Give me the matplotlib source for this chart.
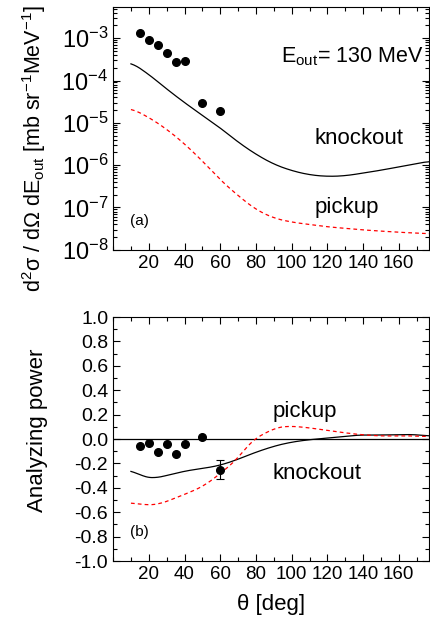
import numpy as np
import matplotlib
matplotlib.use("Agg")
import matplotlib.pyplot as plt
from matplotlib.ticker import MultipleLocator, FixedLocator, LogLocator, NullFormatter

plt.rcParams['font.family'] = ['Liberation Sans', 'DejaVu Sans']
plt.rcParams['mathtext.fontset'] = 'custom'
plt.rcParams['mathtext.rm'] = 'Liberation Sans'
plt.rcParams['mathtext.it'] = 'Liberation Sans:italic'
plt.rcParams['mathtext.default'] = 'regular'

# measured cross sections
theta_exp = [15, 20, 25, 30, 35, 40, 50, 60]
xs_exp = [1.35e-3, 9.0e-4, 7.0e-4, 4.4e-4, 2.7e-4, 2.9e-4, 3.0e-5, 1.95e-5]

# measured analyzing power
ay_exp = [-0.055, -0.035, -0.104, -0.041, -0.123, -0.041, 0.019, -0.252]
ay_err = [0, 0, 0, 0, 0, 0, 0, 0.077]

# knockout calculation, cross section
theta_ko = [10, 20, 30, 40, 50, 60, 70, 80, 90, 100, 110, 120, 130, 140, 150, 160, 170, 177]
xs_ko = [2.7e-4, 1.4e-4, 6.3e-5, 3.0e-5, 1.5e-5, 7.6e-6, 3.5e-6, 1.8e-6, 1.05e-6,
         7.4e-7, 5.9e-7, 5.4e-7, 5.6e-7, 6.5e-7, 7.6e-7, 9.1e-7, 1.1e-6, 1.23e-6]

# pickup calculation, cross section
theta_pu = [10, 20, 30, 40, 50, 60, 70, 80, 90, 100, 120, 140, 160, 177]
xs_pu = [2.2e-5, 1.35e-5, 7.1e-6, 3.2e-6, 1.26e-6, 4.5e-7, 1.9e-7, 8.9e-8,
         5.6e-8, 4.5e-8, 3.5e-8, 2.95e-8, 2.6e-8, 2.4e-8]

# analyzing power calculations
theta_ay_ko = [10, 17, 23, 33, 41, 50, 59, 69, 78, 89, 98, 108, 122, 137, 150, 168, 177]
ay_ko = [-0.255, -0.31, -0.323, -0.288, -0.26, -0.241, -0.219, -0.172, -0.118,
         -0.063, -0.03, -0.008, 0.011, 0.033, 0.033, 0.038, 0.025]
theta_ay_pu = [10, 19, 26, 39, 50, 59, 69, 78, 85, 91, 98, 108, 122, 137, 150, 165, 177]
ay_pu = [-0.523, -0.542, -0.534, -0.46, -0.392, -0.296, -0.172, -0.008, 0.047,
         0.093, 0.107, 0.096, 0.066, 0.038, 0.025, 0.027, 0.02]


def smooth(x, y, log=False):
    xs = np.linspace(x[0], x[-1], 300)
    yv = np.log10(y) if log else np.asarray(y)
    ys = np.interp(xs, x, yv)
    # running mean to round off the corners of the piecewise curve
    k = 9
    pad = np.pad(ys, k, mode='edge')
    ys = np.convolve(pad, np.ones(2 * k + 1) / (2 * k + 1), mode='same')[k:-k]
    return xs, (10 ** ys if log else ys)


def style_axis(ax):
    ax.tick_params(which='both', direction='in', top=True, right=True, labelsize=13.5)
    ax.tick_params(which='major', length=5, width=0.8)
    ax.tick_params(which='minor', length=3, width=0.8)
    ax.set_xlim(0, 177)
    ax.xaxis.set_major_locator(FixedLocator([20, 40, 60, 80, 100, 120, 140, 160]))
    ax.xaxis.set_minor_locator(MultipleLocator(10))
    for s in ax.spines.values():
        s.set_linewidth(0.8)


fig = plt.figure(figsize=(4.3, 6.23), dpi=100)
ax1 = fig.add_axes([0.263, 0.599, 0.735, 0.39])
ax2 = fig.add_axes([0.263, 0.0995, 0.735, 0.3915])

# (a) cross section
x, y = smooth(theta_ko, xs_ko, log=True)
ax1.plot(x, y, color='black', lw=0.9)
x, y = smooth(theta_pu, xs_pu, log=True)
ax1.plot(x, y, color='red', lw=0.9, ls=(0, (3, 2.5)))
ax1.plot(theta_exp, xs_exp, 'o', color='black', ms=5.5)
ax1.set_yscale('log')
ax1.set_ylim(1e-8, 5.5e-3)
ax1.yaxis.set_major_locator(LogLocator(base=10, numticks=10))
ax1.yaxis.set_minor_locator(LogLocator(base=10, subs=np.arange(2, 10), numticks=10))
ax1.yaxis.set_minor_formatter(NullFormatter())
style_axis(ax1)
ax1.tick_params(axis='y', labelsize=17)
ax1.set_ylabel(r'd$^2$σ / dΩ dE$_{out}$ [mb sr$^{-1}$MeV$^{-1}$]', fontsize=15.5)
ax1.yaxis.set_label_coords(-0.205, 0.415)
ax1.text(94, 10 ** -3.44, r'E$_{out}$= 130 MeV', fontsize=15.5, va='center')
ax1.text(113, 10 ** -5.37, 'knockout', fontsize=16, va='center')
ax1.text(113, 10 ** -7.01, 'pickup', fontsize=16, va='center')
ax1.text(9.4, 10 ** -7.32, '(a)', fontsize=11, va='center')

# (b) analyzing power
ax2.axhline(0, color='black', lw=0.9)
x, y = smooth(theta_ay_ko, ay_ko)
ax2.plot(x, y, color='black', lw=0.9)
x, y = smooth(theta_ay_pu, ay_pu)
ax2.plot(x, y, color='red', lw=0.9, ls=(0, (3, 2.5)))
err = np.array(ay_err)
has_err = err > 0
ax2.errorbar(np.array(theta_exp)[has_err], np.array(ay_exp)[has_err], yerr=err[has_err],
             fmt='none', ecolor='black', elinewidth=0.8, capsize=3, capthick=0.8)
ax2.plot(theta_exp, ay_exp, 'o', color='black', ms=5.5)
ax2.set_ylim(-1.0, 1.0)
ax2.yaxis.set_major_locator(MultipleLocator(0.2))
ax2.yaxis.set_minor_locator(MultipleLocator(0.1))
ax2.yaxis.set_major_formatter(plt.FuncFormatter(lambda v, p: f'{v:.1f}'.replace('-0.0', '0.0')))
style_axis(ax2)
ax2.tick_params(axis='y', labelsize=14)
ax2.set_ylabel('Analyzing power', fontsize=16)
ax2.yaxis.set_label_coords(-0.205, 0.535)
ax2.set_xlabel('θ [deg]', fontsize=16, labelpad=8)
ax2.text(89.4, 0.222, 'pickup', fontsize=16, va='center')
ax2.text(89.4, -0.28, 'knockout', fontsize=16, va='center')
ax2.text(9.4, -0.764, '(b)', fontsize=11, va='center')

fig.savefig('out.png', dpi=100)
